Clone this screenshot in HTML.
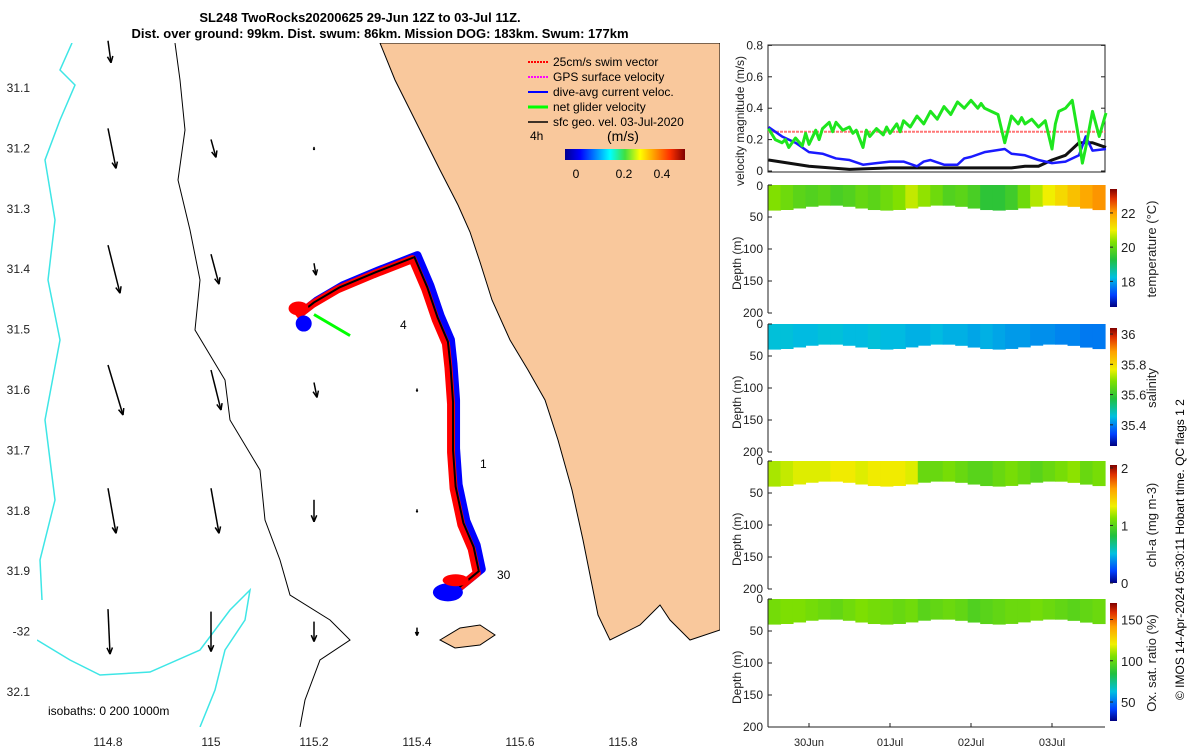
<!DOCTYPE html>
<html><head><meta charset="utf-8"><style>
body{margin:0;background:#fff}
svg{font-family:"Liberation Sans",sans-serif;}
</style></head><body>
<svg id="s" width="1200" height="750" xmlns="http://www.w3.org/2000/svg">
<text x="360" y="22" font-size="13" font-weight="bold" text-anchor="middle">SL248 TwoRocks20200625 29-Jun 12Z to 03-Jul 11Z.</text>
<text x="380" y="38" font-size="13" font-weight="bold" text-anchor="middle">Dist. over ground: 99km. Dist. swum: 86km. Mission DOG: 183km. Swum: 177km</text>
<defs><linearGradient id="jeth" x1="0" x2="1" y1="0" y2="0"><stop offset="0" stop-color="#00008f"/><stop offset="0.125" stop-color="#0000ff"/><stop offset="0.375" stop-color="#00ffff"/><stop offset="0.5" stop-color="#40e040"/><stop offset="0.625" stop-color="#ffff00"/><stop offset="0.875" stop-color="#ff3000"/><stop offset="1" stop-color="#800000"/></linearGradient>
<linearGradient id="jetv" x1="0" x2="0" y1="1" y2="0"><stop offset="0" stop-color="#000080"/><stop offset="0.1" stop-color="#0040ff"/><stop offset="0.25" stop-color="#00c0e0"/><stop offset="0.4" stop-color="#20c040"/><stop offset="0.55" stop-color="#80e000"/><stop offset="0.65" stop-color="#f0f000"/><stop offset="0.8" stop-color="#ffa000"/><stop offset="0.92" stop-color="#e03000"/><stop offset="1" stop-color="#800000"/></linearGradient></defs>
<g id="map">
<clipPath id="mc"><rect x="37" y="43" width="683" height="684"/></clipPath>
<g clip-path="url(#mc)">
<path d="M380,43 L395,80 L405,100 L420,130 L440,170 L458,205 L470,232 L480,262 L492,300 L510,340 L528,370 L545,400 L558,440 L572,490 L583,540 L592,585 L598,615 L610,640 L640,625 L660,605 L670,620 L690,640 L720,630 L720,43 Z" fill="#f9c89c" stroke="#000" stroke-width="1"/>
<path d="M440,640 L460,628 L480,625 L495,635 L480,645 L455,648 Z" fill="#f9c89c" stroke="#000"/>
<path d="M72,43 L60,70 L75,85 L60,120 L45,160 L55,220 L48,280 L60,340 L45,420 L55,500 L40,560 L42,600" fill="none" stroke="#3ee6e6" stroke-width="1.5"/>
<path d="M37,640 L70,660 L100,675 L150,672 L200,650 L230,610 L250,590 L245,620 L225,650 L215,690 L200,727" fill="none" stroke="#3ee6e6" stroke-width="1.5"/>
<path d="M175,43 L180,80 L185,130 L178,180 L190,230 L200,280 L195,330 L225,380 L230,420 L260,470 L265,520 L280,560 L290,595 L330,620 L350,640 L320,660 L305,700 L300,727" fill="none" stroke="#000" stroke-width="1"/>
</g>
<g id="mapAxes" font-size="12" fill="#222"></g>
<g id="arrows"></g>
<g id="track"></g>
<text x="48" y="715" font-size="12">isobaths: 0   200  1000m</text>
<text x="400" y="329" font-size="12">4</text>
<text x="480" y="468" font-size="12">1</text>
<text x="497" y="579" font-size="12">30</text>
<g font-size="12">
<line x1="528" y1="62" x2="548" y2="62" stroke="#f00" stroke-width="2" stroke-dasharray="2,1"/><text x="553" y="66">25cm/s swim vector</text>
<line x1="528" y1="77" x2="548" y2="77" stroke="#f0f" stroke-width="2" stroke-dasharray="2,1"/><text x="553" y="81">GPS surface velocity</text>
<line x1="528" y1="92" x2="548" y2="92" stroke="#00f" stroke-width="2"/><text x="553" y="96">dive-avg current veloc.</text>
<line x1="528" y1="107" x2="548" y2="107" stroke="#0f0" stroke-width="3"/><text x="553" y="111">net glider velocity</text>
<line x1="528" y1="122" x2="548" y2="122" stroke="#000" stroke-width="1.5"/><text x="553" y="126">sfc geo. vel. 03-Jul-2020</text>
<text x="530" y="140">4h</text><text x="607" y="141" font-size="14">(m/s)</text>
<rect x="565" y="149" width="120" height="11" fill="url(#jeth)"/>
<text x="576" y="178" text-anchor="middle">0</text><text x="624" y="178" text-anchor="middle">0.2</text><text x="662" y="178" text-anchor="middle">0.4</text>
</g>
</g>
<g id="right"></g>
<text transform="translate(1184,700) rotate(-90)" font-size="12">© IMOS 14-Apr-2024 05:30:11 Hobart time. QC flags 1  2</text>
</svg>
<script>
const NS="http://www.w3.org/2000/svg";
function E(tag,attrs,parent,txt){const e=document.createElementNS(NS,tag);for(const k in attrs)e.setAttribute(k,attrs[k]);if(txt!==undefined)e.textContent=txt;parent.appendChild(e);return e;}
const lonTicks=[114.8,115,115.2,115.4,115.6,115.8];
const latTicks=[31.1,31.2,31.3,31.4,31.5,31.6,31.7,31.8,31.9,32,32.1];
const latLabels=["31.1","31.2","31.3","31.4","31.5","31.6","31.7","31.8","31.9","-32","32.1"];
const mx=l=>108+(l-114.8)/0.2*103, my=l=>88+(l-31.1)/0.1*60.4;
const ax=document.getElementById('mapAxes');
lonTicks.forEach(v=>{const t=E('text',{x:mx(v),y:746,'text-anchor':'middle'},ax,String(v));});
latTicks.forEach((v,i)=>{const t=E('text',{x:30,y:my(v)+4,'text-anchor':'end'},ax,latLabels[i]);});
const arrLon=[114.8,115,115.2,115.4, 114.8,115,115.2, 114.8,115,115.2,115.4, 114.8,115,115.2,115.4, 114.8,115,115.2,115.4, 114.8,115,115.2,115.4];
const arrLat=[31.04,31.04,31.04,31.04, 31.2,31.2,31.2, 31.4,31.4,31.4,31.4, 31.6,31.6,31.6,31.6, 31.8,31.8,31.8,31.8, 32.0,32.0,32.0,32.0];
const arrDx=[3,0,0,0, 8,5,0, 12,8,2,0, 15,10,3,0, 8,8,0,0, 2,0,0,0];
const arrDy=[22,0,0,0, 40,18,3, 48,30,12,3, 50,40,15,3, 45,45,22,3, 45,40,20,8];
const ag=document.getElementById('arrows');
arrLon.forEach((l,i)=>{if(arrDy[i]===0)return;const x=mx(l),y=my(arrLat[i])-arrDy[i]/2;const x2=x+arrDx[i],y2=y+arrDy[i];
const g=E('g',{},ag);
E('line',{x1:x,y1:y,x2:x2,y2:y2,stroke:'#000','stroke-width':1.5},g);
const a=Math.atan2(y2-y,x2-x),h=Math.min(7,arrDy[i]/2);
E('path',{d:`M${x2},${y2} L${x2-h*Math.cos(a-0.4)},${y2-h*Math.sin(a-0.4)} M${x2},${y2} L${x2-h*Math.cos(a+0.4)},${y2-h*Math.sin(a+0.4)}`,stroke:'#000','stroke-width':1.5,fill:'none'},g);});
const trkLon=[115.47,115.52,115.51,115.49,115.475,115.47,115.47,115.465,115.46,115.44,115.42,115.395,115.32,115.25,115.2,115.17];
const trkLat=[31.935,31.9,31.86,31.82,31.76,31.7,31.62,31.56,31.52,31.48,31.43,31.38,31.405,31.43,31.455,31.475];
const tg=document.getElementById('track');
const pts=trkLon.map((l,i)=>mx(l)+','+my(trkLat[i])).join(' ');
const bl=E('polyline',{points:trkLon.map((l,i)=>(mx(l)+3)+','+(my(trkLat[i])-2)).join(' '),fill:'none',stroke:'#0000ff','stroke-width':8,'stroke-linejoin':'round'},tg);
const red=E('polyline',{points:trkLon.map((l,i)=>(mx(l)-2)+','+(my(trkLat[i])+2)).join(' '),fill:'none',stroke:'#f00','stroke-width':8,'stroke-linejoin':'round'},tg);
const bk=E('polyline',{points:pts,fill:'none',stroke:'#000','stroke-width':2},tg);
const blob=E('ellipse',{cx:mx(115.46),cy:my(31.935),rx:15,ry:9,fill:'#00f'},tg);
const blob2=E('ellipse',{cx:mx(115.475),cy:my(31.915),rx:13,ry:6,fill:'#f00'},tg);
const blob4=E('ellipse',{cx:mx(115.18),cy:my(31.49),rx:8,ry:8,fill:'#00f'},tg);
const blob3=E('ellipse',{cx:mx(115.17),cy:my(31.465),rx:10,ry:7,fill:'#f00'},tg);
const gv=E('line',{x1:mx(115.2),y1:my(31.475),x2:mx(115.27),y2:my(31.51),stroke:'#0f0','stroke-width':3},tg);

const R=document.getElementById('right');
const X0=768,X1=1105,DAYPX=81;
const hx=h=>809+(h-12)/24*DAYPX;
const dayTicks=["30Jun","01Jul","02Jul","03Jul"];
const velHours=[0,2,4,5,6,8,10,11,12,14,15,16,18,19,20,22,24,25,26,28,29,30,32,34,35,36,38,39,40,42,44,46,48,50,52,54,56,58,60,62,63,64,66,68,70,72,74,75,76,78,80,82,84,85,86,88,90,92,93,94,96,98,100];
const greenV=[0.27,0.2,0.18,0.2,0.15,0.21,0.16,0.24,0.17,0.26,0.2,0.27,0.31,0.25,0.31,0.26,0.28,0.24,0.26,0.15,0.26,0.22,0.27,0.23,0.28,0.24,0.3,0.25,0.32,0.28,0.35,0.3,0.38,0.33,0.41,0.36,0.44,0.4,0.45,0.4,0.43,0.4,0.38,0.36,0.18,0.35,0.3,0.34,0.3,0.33,0.28,0.32,0.14,0.3,0.38,0.4,0.45,0.2,0.05,0.15,0.38,0.22,0.37];
const blueHours=[0,4,8,12,16,20,24,28,32,36,40,44,46,48,52,56,58,60,64,70,72,76,80,84,88,92,94,96,100];
const blueV=[0.28,0.22,0.18,0.12,0.11,0.08,0.07,0.04,0.05,0.06,0.06,0.03,0.06,0.07,0.04,0.04,0.08,0.09,0.12,0.14,0.11,0.1,0.07,0.05,0.06,0.1,0.22,0.13,0.14];
const blackHours=[0,12,24,36,48,60,72,76,80,84,88,92,96,100];
const blackV=[0.07,0.03,0.01,0.02,0.02,0.02,0.02,0.03,0.03,0.07,0.1,0.18,0.18,0.15];
const vy=v=>171-v*157;
const vTicks=[0,0.2,0.4,0.6,0.8];
const vp=E('g',{},R);
E('rect',{x:X0,y:45,width:X1-X0,height:127,fill:'#fff',stroke:'#222'},vp);
vTicks.forEach(v=>{const t=E('text',{x:763,y:vy(v)+4,'text-anchor':'end','font-size':12,fill:'#222'},vp,v===0?'0':String(v));
E('line',{x1:X0,x2:X0+4,y1:vy(v),y2:vy(v),stroke:'#222'},vp);E('line',{x1:X1-4,x2:X1,y1:vy(v),y2:vy(v),stroke:'#222'},vp);});
E('text',{transform:'translate(744,186) rotate(-90)','font-size':12,fill:'#222'},vp,'velocity magnitude (m/s)');
const swl=E('line',{x1:X0,x2:X1,y1:vy(0.25),y2:vy(0.25),stroke:'#f77','stroke-width':2,'stroke-dasharray':'3,1'},vp);
function line(hs,vs,col,w,name){const p=E('polyline',{points:hs.map((h,i)=>hx(h)+','+vy(vs[i])).join(' '),fill:'none',stroke:col,'stroke-width':w,'stroke-linejoin':'round'},vp);}
line(blackHours,blackV,'#111',3,'sfc-geo-velocity-line');
line(blueHours,blueV,'#1a1aff',2.5,'dive-avg-velocity-line');
line(velHours,greenV,'#1ee61e',3,'net-glider-velocity-line');

const tempCols=[20.3,20.1,19.9,19.8,19.9,19.7,19.8,20.0,19.9,20.1,20.3,20.7,20.4,20.1,19.8,19.9,19.7,19.4,19.4,19.6,20.1,20.6,21.0,21.3,21.6,21.9,22.1];
const salCols=[35.46,35.46,35.45,35.45,35.46,35.46,35.45,35.45,35.46,35.45,35.45,35.44,35.44,35.45,35.44,35.44,35.43,35.44,35.43,35.42,35.42,35.41,35.41,35.4,35.4,35.39,35.39];
const chlCols=[1.2,1.25,1.3,1.3,1.3,1.35,1.35,1.3,1.35,1.35,1.35,1.3,1.05,1.05,1.1,1.05,1.0,1.0,1.05,1.1,1.05,1.0,1.05,1.1,1.15,1.05,1.1];
const oxCols=[103,105,105,103,101,99,102,105,103,102,100,102,97,99,101,99,95,97,99,101,101,103,101,99,97,99,101];
const panels=[
 {y:185,cols:tempCols,min:16.5,max:23.4,ticks:[18,20,22],label:'temperature (°C)',name:'temperature'},
 {y:324,cols:salCols,min:35.26,max:36.04,ticks:[35.4,35.6,35.8,36],label:'salinity',name:'salinity'},
 {y:461,cols:chlCols,min:0,max:2.05,ticks:[0,1,2],label:'chl-a (mg m-3)',name:'chlorophyll'},
 {y:599,cols:oxCols,min:27,max:170,ticks:[50,100,150],label:'Ox. sat. ratio (%)',name:'oxygen'}];
const cmPos=[0,0.1,0.25,0.4,0.55,0.65,0.8,0.92,1];
const cmCol=[[0,0,128],[0,64,255],[0,192,224],[32,192,64],[128,224,0],[240,240,0],[255,160,0],[224,48,0],[128,0,0]];
function cmap(t){t=Math.max(0,Math.min(1,t));for(let i=1;i<cmPos.length;i++){if(t<=cmPos[i]){const f=(t-cmPos[i-1])/(cmPos[i]-cmPos[i-1]);const c=cmCol[i-1].map((a,k)=>Math.round(a+(cmCol[i][k]-a)*f));return `rgb(${c})`;}}return 'rgb(128,0,0)';}
const depthTicks=[0,50,100,150,200];
panels.forEach(P=>{const g=E('g',{},R);
 const H=128,dy=d=>P.y+d/200*H;
 const n=P.cols.length,w=(X1-X0)/n;
 P.cols.forEach((v,i)=>{const c=E('rect',{x:X0+i*w,y:P.y,width:w+0.6,height:dy(36+4*Math.cos(i*0.7))-P.y,fill:cmap((v-P.min)/(P.max-P.min))},g);});
 E('line',{x1:X0,x2:X0,y1:P.y,y2:P.y+H,stroke:'#222'},g);
 depthTicks.forEach(d=>{E('text',{x:763,y:dy(d)+(P.y===185&&d===0?5:4),'text-anchor':'end','font-size':12,fill:'#222'},g,String(d));E('line',{x1:X0,x2:X0+4,y1:dy(d),y2:dy(d),stroke:'#222'},g);});
 E('text',{transform:`translate(741,${P.y+105}) rotate(-90)`,'font-size':12,fill:'#222'},g,'Depth (m)');
 const cb=E('rect',{x:1110,y:P.y+4,width:7,height:H-10,fill:'url(#jetv)'},g);
 const cy=v=>P.y+4+(H-10)*(1-(v-P.min)/(P.max-P.min));
 P.ticks.forEach(t=>{E('text',{x:1121,y:cy(t)+5,'font-size':13,fill:'#222'},g,String(t));E('line',{x1:1110,x2:1113,y1:cy(t),y2:cy(t),stroke:'#222'},g);});
 E('text',{transform:`translate(1156,${P.y+H/2}) rotate(-90)`,'font-size':13,fill:'#222','text-anchor':'middle'},g,P.label);
});
E('line',{x1:X0,x2:X1,y1:727,y2:727,stroke:'#222'},R);
dayTicks.forEach((d,i)=>{const x=hx(12+24*i);const t=E('text',{x:x,y:746,'text-anchor':'middle','font-size':11,fill:'#222'},R,d);E('line',{x1:x,x2:x,y1:723,y2:727,stroke:'#222'},R);});
</script>
</body></html>
